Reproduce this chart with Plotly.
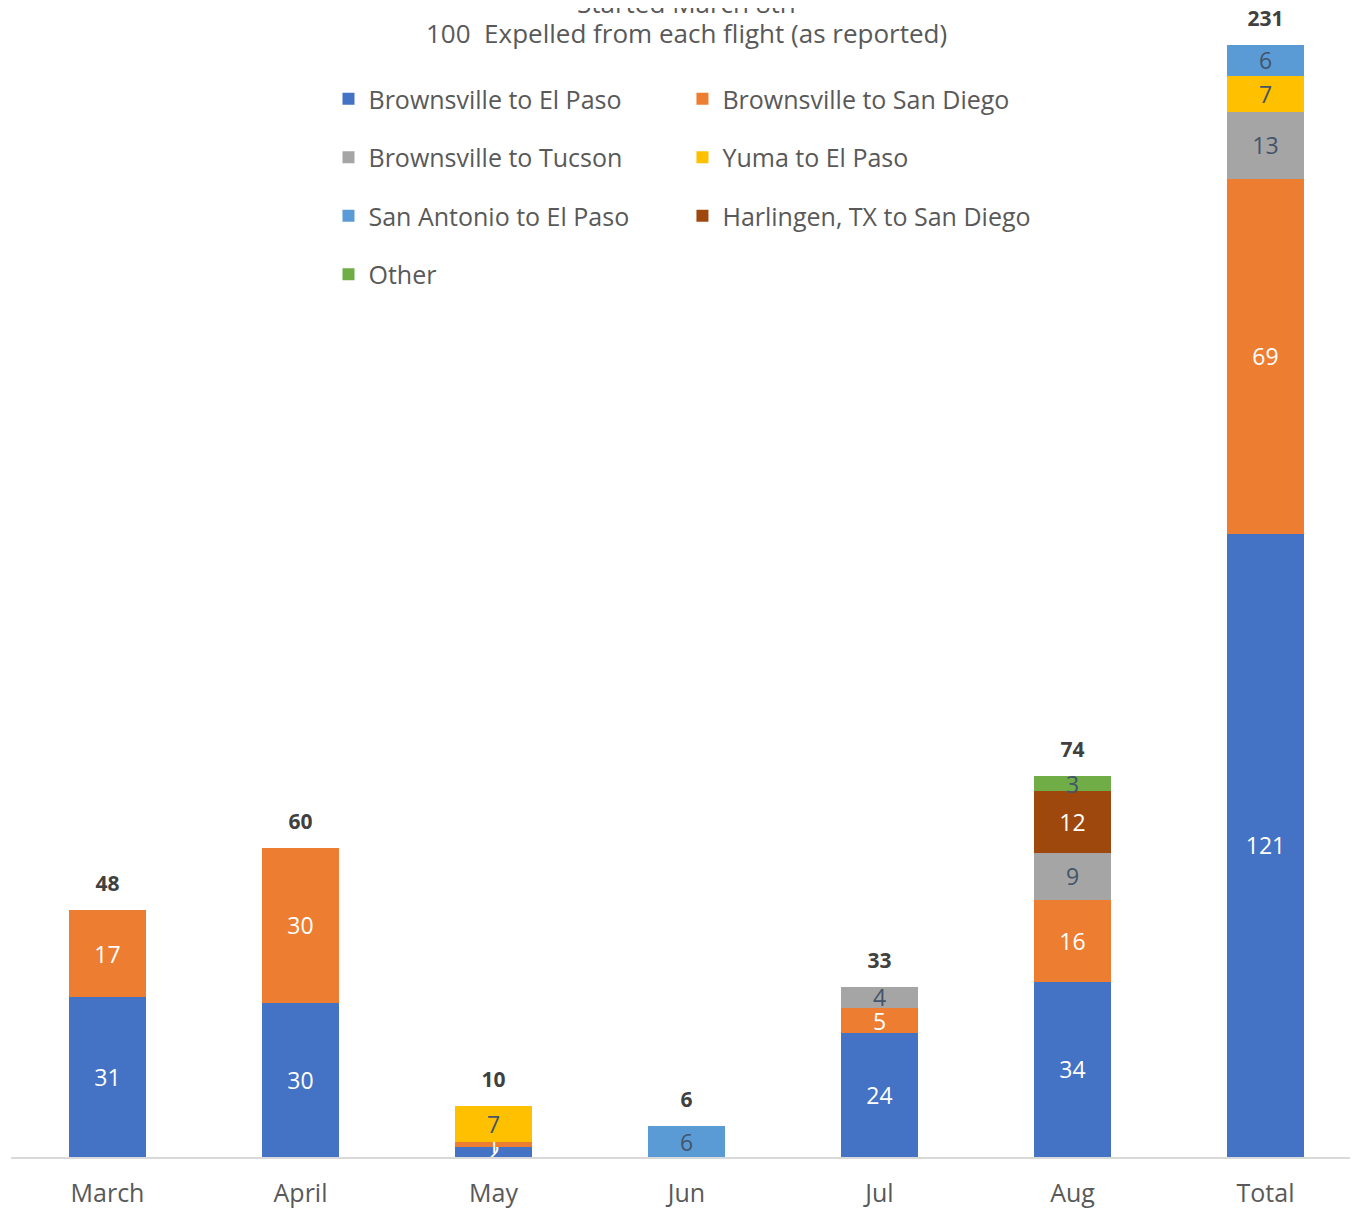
import plotly.graph_objects as go

categories = ["March", "April", "May", "Jun", "Jul", "Aug", "Total"]
series_names = ["Brownsville to El Paso", "Brownsville to San Diego", "Brownsville to Tucson",
                "Yuma to El Paso", "San Antonio to El Paso", "Harlingen, TX to San Diego", "Other"]
bep = [31, 30, 2, None, 24, 34, 121]
bsd = [17, 30, 1, None, 5, 16, 69]
tucson = [None, None, None, None, 4, 9, 13]
yuma = [None, None, 7, None, None, None, 7]
sa_ep = [None, None, None, 6, None, None, 6]
harlingen = [None, None, None, None, None, 12, None]
other = [None, None, None, None, None, 3, None]
totals = [48, 60, 10, 6, 33, 74, 231]
title_lines = ["Started March 8th", "100\u00a0 Expelled from each flight (as reported)"]

series_values = [bep, bsd, tucson, yuma, sa_ep, harlingen, other]
colors = ["#4472C4", "#ED7D31", "#A5A5A5", "#FFC000", "#5B9BD5", "#9E480E", "#70AD47"]
text_colors = ["white", "white", "#44546A", "#44546A", "#44546A", "white", "#44546A"]
legend_ids = ["legend", "legend2", "legend", "legend2", "legend", "legend2", "legend"]

FONT = "Open Sans"
fig = go.Figure()
for name, vals, c, tc, lg in zip(series_names, series_values, colors, text_colors, legend_ids):
    fig.add_trace(go.Bar(
        x=categories, y=vals, name=name, marker=dict(color=c, line=dict(width=0)),
        texttemplate="%{y}", textposition="inside", insidetextanchor="middle",
        textangle=0, constraintext="none",
        textfont=dict(color=tc, size=23, family=FONT),
        legend=lg, legendgroup=name,
    ))

stack_tops = [sum(v[i] or 0 for v in series_values) for i in range(len(categories))]
fig.add_trace(go.Scatter(
    x=categories, y=stack_tops, mode="markers+text", text=[str(t) for t in totals],
    marker=dict(size=20, opacity=0),
    textposition="top center", textfont=dict(size=21, color="#404040", family=FONT, weight="bold"),
    showlegend=False, hoverinfo="skip", cliponaxis=False,
))

legend_common = dict(
    orientation="v", font=dict(size=25, color="#595959", family=FONT),
    bgcolor="rgba(0,0,0,0)", tracegroupgap=23, itemclick=False,
    xanchor="left", yanchor="top", traceorder="grouped",
)
fig.update_layout(
    width=1358, height=1211,
    margin=dict(l=3, r=4, t=16, b=62),
    plot_bgcolor="white", paper_bgcolor="white",
    barmode="stack", bargap=0.6,
    uniformtext=dict(minsize=8, mode="show"),
    font=dict(family=FONT, color="#595959"),
    showlegend=True,
    legend=dict(x=0.235, y=0.954, **legend_common),
    legend2=dict(x=0.497, y=0.954, **legend_common),
    xaxis=dict(showline=True, linecolor="#D9D9D9", linewidth=1.5, ticks="",
               ticklabelstandoff=13,
               tickfont=dict(size=25, color="#595959", family=FONT)),
    yaxis=dict(range=[0, 220], visible=False, showgrid=False),
    annotations=[
        dict(text=title_lines[0], xref="paper", yref="paper", x=0.5, y=1.0,
             yanchor="middle", xanchor="center", showarrow=False,
             font=dict(size=26, color="#595959", family=FONT), yshift=21),
        dict(text=title_lines[1], xref="paper", yref="paper", x=0.5, y=1.0,
             yanchor="middle", xanchor="center", showarrow=False,
             font=dict(size=26, color="#595959", family=FONT), yshift=-9),
    ],
)

fig.write_html("out.html")
